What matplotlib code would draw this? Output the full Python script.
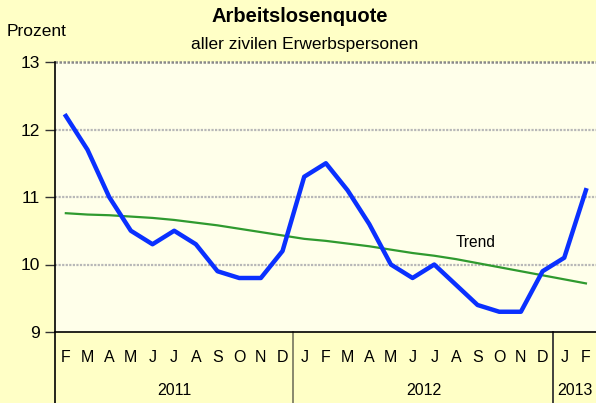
import numpy as np
import matplotlib
matplotlib.use("Agg")
import matplotlib.pyplot as plt
import matplotlib.ticker as ticker

plt.rcParams['font.family'] = ['Liberation Sans', 'DejaVu Sans']

# data
months = ["F", "M", "A", "M", "J", "J", "A", "S", "O", "N", "D",
          "J", "F", "M", "A", "M", "J", "J", "A", "S", "O", "N", "D",
          "J", "F"]
years = ["2011", "2012", "2013"]
year_months = [11, 12, 2]  # months per year shown
quote = [12.2, 11.7, 11.0, 10.5, 10.3, 10.5, 10.3, 9.9, 9.8, 9.8, 10.2,
         11.3, 11.5, 11.1, 10.6, 10.0, 9.8, 10.0, 9.7, 9.4, 9.3, 9.3, 9.9,
         10.1, 11.1]
trend = [10.76, 10.74, 10.73, 10.71, 10.69, 10.66, 10.62, 10.58, 10.53, 10.48, 10.43,
         10.38, 10.35, 10.31, 10.27, 10.22, 10.17, 10.13, 10.08, 10.02, 9.96, 9.90, 9.84,
         9.78, 9.72]

outer_bg = "#FFFFC6"
inner_bg = "#FFFFEA"

fig = plt.figure(figsize=(5.96, 4.03), dpi=100, facecolor=outer_bg)
ax = fig.add_axes([55/596, 71/403, 541.75/596, 270/403])
ax.set_facecolor(inner_bg)

x = np.arange(len(quote))
ax.set_xlim(-0.5, len(quote) - 0.5)
ax.set_ylim(9, 13)

# grid lines
for v in [10, 11, 12]:
    ax.axhline(v, color="#b8b8b8", lw=1.6, ls=(0, (1, 0.6)), zorder=1)
ax.axhline(13, color="#8a8a8a", lw=1.8, ls=(0, (1, 0.6)), zorder=1, clip_on=False)

ax.plot(x, trend, color="#2f9a2f", lw=1.6, zorder=3)
ax.plot(x, quote, color="#0a30ff", lw=3.2, zorder=4, solid_joinstyle="round")

ax.text(18.9, 10.33, "Trend", fontsize=11.2, ha="center", va="center")

# spines and ticks
for s in ["top", "right"]:
    ax.spines[s].set_visible(False)
ax.spines["left"].set_linewidth(1.2)
ax.spines["bottom"].set_linewidth(1.2)
ax.yaxis.set_major_locator(ticker.MultipleLocator(1))
ax.tick_params(axis="y", length=7, width=1, color="#333333", labelsize=12.5, pad=4)
ax.set_xticks([])

# month labels and year labels below the axis
xt = ax.get_xaxis_transform()
for i, m in enumerate(months):
    ax.text(i, -0.093, m, transform=xt, ha="center", va="center", fontsize=11.5)
start = -0.5
sep_colors = ["#7f7f66", "#333333"]
for k, (yr, n) in enumerate(zip(years, year_months)):
    ax.text(start + n / 2, -0.215, yr, transform=xt, ha="center", va="center", fontsize=11.5)
    start += n
    if start < len(quote) - 0.5:
        ax.plot([start, start], [0, -0.27], transform=xt,
                color=sep_colors[k], lw=1.3, clip_on=False)
ax.plot([-0.5, -0.5], [0, -0.27], transform=xt,
        color="black", lw=1.2, clip_on=False)

# titles
fig.text(300/596, 1 - 17/403, "Arbeitslosenquote", ha="center", va="center", fontsize=14.5, fontweight="bold")
fig.text(305/596, 1 - 44/403, "aller zivilen Erwerbspersonen", ha="center", va="center", fontsize=12.5)
fig.text(7/596, 1 - 32/403, "Prozent", ha="left", va="center", fontsize=12.5)

fig.savefig("out.png", dpi=100, facecolor=outer_bg)
